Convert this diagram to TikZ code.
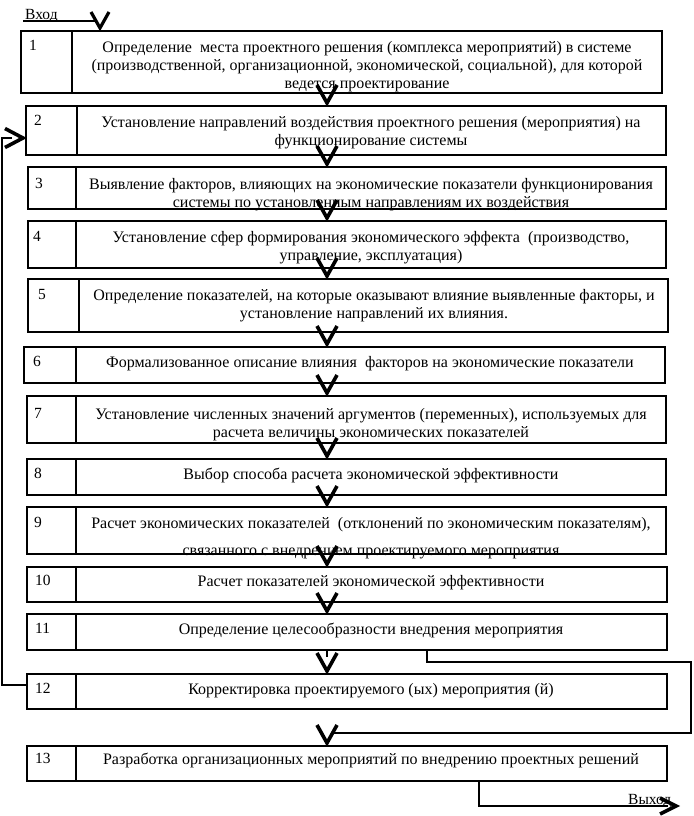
\documentclass[tikz,border=0pt]{standalone}
\usepackage{fontspec}
\setmainfont{Liberation Serif}
\usetikzlibrary{calc}
\tikzset{
  boxst/.style={draw, line width=1.2pt, inner sep=0pt, outer sep=0pt},
  divst/.style={line width=1.1pt},
  conn/.style={line width=1.1pt},
  chev/.style={line width=3.6pt, line join=miter, miter limit=10},
  txt/.style={font=\fontsize{16}{18}\selectfont, align=center, inner sep=0pt, anchor=north},
  num/.style={font=\fontsize{15.5}{18}\selectfont, inner sep=0pt, anchor=west},
}
\newcommand\stepbox[6]{%
  \node[boxst, minimum width={(#4-#2)*1pt}, minimum height={(#5-#3)*1pt}] (#1) at ({(#2+#4)/2},{(#3+#5)/2}) {};
  \draw[divst] ([xshift={(#6-#2)*1pt}]#1.north west) -- ([xshift={(#6-#2)*1pt}]#1.south west);
}
\newcommand\chevdown[1]{%
  \draw[chev] ($(#1.north -| cx)+(-10,-21)$) -- ($(#1.north -| cx)+(0,-3)$) -- ($(#1.north -| cx)+(10,-21)$);
}
\begin{document}
\begin{tikzpicture}[x=1pt,y=-1pt]
\useasboundingbox[fill=white] (0,0) rectangle (693,816);
\coordinate (cx) at (327,0);
\coordinate (bx) at (427,0);
\coordinate (ex) at (479,0);

% boxes: name, left, top, right, bottom, divider
\stepbox{b1}{21}{31}{662}{93}{72}
\stepbox{b2}{26}{106}{666}{155}{77}
\stepbox{b3}{28}{167}{666}{209}{76}
\stepbox{b4}{28}{221}{666}{268}{76}
\stepbox{b5}{28}{279}{668}{332}{79}
\stepbox{b6}{24}{347}{665}{383}{76}
\stepbox{b7}{27}{396}{666}{443}{76}
\stepbox{b8}{27}{459}{666}{495}{76}
\stepbox{b9}{27}{507}{666}{554}{76}
\stepbox{b10}{27}{567}{667}{602}{76}
\stepbox{b11}{27}{614}{667}{650}{76}
\stepbox{b12}{27}{674}{667}{709}{76}
\stepbox{b13}{27}{746}{667}{781}{76}

% numbers
\node[num] (n1) at (29,45) {1};
\node[num] (n2) at (34,120) {2};
\node[num] (n3) at (35,183) {3};
\node[num] (n4) at (33,236) {4};
\node[num] (n5) at (38,294) {5};
\node[num] (n6) at (33,361) {6};
\node[num] (n7) at (34,413) {7};
\node[num] (n8) at (34,473) {8};
\node[num] (n9) at (34,522) {9};
\node[num] (n10) at (35,580) {10};
\node[num] (n11) at (35,628) {11};
\node[num] (n12) at (35,688) {12};
\node[num] (n13) at (35,758) {13};

% texts
\node[txt] (t1) at (367,41) {Определение\ \ места проектного решения (комплекса мероприятий) в системе\\(производственной, организационной, экономической, социальной), для которой\\ведется проектирование};
\node[txt] (t2) at (371,116) {Установление направлений воздействия проектного решения (мероприятия) на\\функционирование системы};
\node[txt] (t3) at (371,178) {Выявление факторов, влияющих на экономические показатели функционирования\\системы по установленным направлениям их воздействия};
\node[txt] (t4) at (371,231) {Установление сфер формирования экономического эффекта\ \ (производство,\\управление, эксплуатация)};
\node[txt] (t5) at (374,289) {Определение показателей, на которые оказывают влияние выявленные факторы, и\\установление направлений их влияния.};
\node[txt] (t6) at (370,356) {Формализованное описание влияния\ \ факторов на экономические показатели};
\node[txt] (t7) at (371,408) {Установление численных значений аргументов (переменных), используемых для\\расчета величины экономических показателей};
\node[txt] (t8) at (371,468) {Выбор способа расчета экономической эффективности};
\node[txt] (t9) at (371,517) {Расчет экономических показателей\ \ (отклонений по экономическим показателям),};
\node[txt] (t9b) at (371,548) {связанного с внедрением проектируемого мероприятия};
\node[txt] (t10) at (371,575) {Расчет показателей экономической эффективности};
\node[txt] (t11) at (371,623) {Определение целесообразности внедрения мероприятия};
\node[txt] (t12) at (371,683) {Корректировка проектируемого (ых) мероприятия (й)};
\node[txt] (t13) at (371,753) {Разработка организационных мероприятий по внедрению проектных решений};

% entry
\node[font=\fontsize{15.5}{18}\selectfont, inner sep=0pt, anchor=base west] (vhod) at (25,20) {Вход};
\coordinate (in) at (23,21);
\draw[conn] (in) -- (96,21);
\draw[chev, line width=3.2pt] ($(b1.north -| 100,0)+(-9,-19)$) -- ($(b1.north -| 100,0)+(0,-3)$) -- ($(b1.north -| 100,0)+(9,-19)$);

% main chain chevrons
\chevdown{b2}
\chevdown{b3}
\chevdown{b4}
\chevdown{b5}
\chevdown{b6}
\chevdown{b7}
\chevdown{b8}
\chevdown{b9}
\chevdown{b10}
\chevdown{b11}

% 11 -> 12
\draw[conn] (b11.south -| cx) -- ++(0,7);
\chevdown{b12}

% 11 -> 13
\draw[conn] (b11.south -| bx) -- (427,662) -- (691,662) -- (691,733) -- (333,733);
\chevdown{b13}

% 12 -> 2 feedback
\draw[conn] ([yshift=6.5pt]b12.west) -- (2,685) -- (2,138) -- (12,138);
\draw[chev] ($(b2.west |- 0,138)+(-21,-9.5)$) -- ($(b2.west |- 0,138)+(-3,0)$) -- ($(b2.west |- 0,138)+(-21,9.5)$);

% exit
\node[font=\fontsize{15.5}{18}\selectfont, inner sep=0pt, anchor=base west] (vyhod) at (628,804) {Выход};
\draw[conn] (b13.south -| ex) -- (479,806) -- (668,806);
\draw[chev] (660,798) -- (676,806) -- (660,814);
\end{tikzpicture}
\end{document}
